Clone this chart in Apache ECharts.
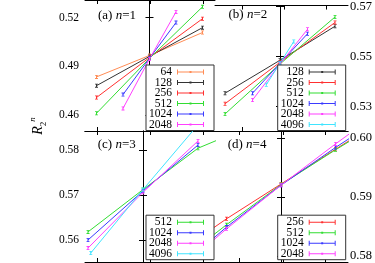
<!DOCTYPE html>
<html><head><meta charset="utf-8">
<script src="https://cdn.jsdelivr.net/npm/echarts@6.0.0/dist/echarts.min.js"></script>
<style>html,body{margin:0;padding:0;background:#fff;}#c{width:375px;height:263px;}</style>
</head><body><div id="c"></div>
<script>
// ---- data (x in arbitrary units, centred on the crossing) ----
const sizesA = ['64','128','256','512','1024','2048'];
const sizesB = ['128','256','512','1024','2048','4096'];
const sizesC = ['512','1024','2048','4096'];
const sizesD = ['256','512','1024','2048'];

const xWide = [-1, 0, 1];
const xHalf = [-0.5, 0, 0.5];
const xQuarter = [-0.25, 0, 0.25];
const xWideExt = [-1, 0, 1, 2];
const xC4096 = [-0.95, 0, 1];
const xFull = [-2, -1, 0, 1, 2];

// panel (a) n=1
const a64   = [0.4836, 0.4968, 0.5109];
const a128  = [0.4782, 0.4962, 0.5139];
const a256  = [0.4709, 0.4955, 0.5194];
const a512  = [0.4612, 0.4950, 0.5267];
const a1024 = [0.4727, 0.4950, 0.5170];
const a2048 = [0.4642, 0.4946, 0.5236];
// panel (b) n=2
const b128  = [0.5353, 0.5485, 0.5621];
const b256  = [0.5311, 0.5477, 0.5636];
const b512  = [0.5270, 0.5470, 0.5658];
const b1024 = [0.5353, 0.5473, 0.5591];
const b2048 = [0.5326, 0.5470, 0.5609];
const b4096 = [0.5387, 0.5473, 0.5560];
// panel (c) n=3
const c512  = [0.5618, 0.5712, 0.5804, 0.5855];
const c1024 = [0.5600, 0.5709, 0.5811];
const c2048 = [0.5582, 0.5706, 0.5820];
const c4096 = [0.5571, 0.5712, 0.5856];
// panel (d) n=4
const d256  = [0.5799, 0.5863, 0.5922, 0.5981, 0.6039];
const d512  = [0.5781, 0.5853, 0.5921, 0.5980, 0.6036];
const d1024 = [0.5770, 0.5849, 0.5920, 0.5984, 0.6044];
const d2048 = [0.5766, 0.5846, 0.5920, 0.5990, 0.6057];

// tick labels
const yTicksA = [0.46, 0.49, 0.52];
const yTicksB = [0.53, 0.55, 0.57];
const yTicksC = [0.56, 0.57, 0.58];
const yTicksD = [0.58, 0.59, 0.60];
const panelLabels = [['(a) ', '1'], ['(b) ', '2'], ['(c) ', '3'], ['(d) ', '4']];

const colors = {'64':'#ff8c55','128':'#333333','256':'#ff3030','512':'#33dd33','1024':'#3b3bff','2048':'#ff40ff','4096':'#40e4ff'};

// ---- layout ----
const SERIF = 'Liberation Serif';
const grids = [
  {left:85, top:-2, width:130, height:133},
  {left:215, top:-2, width:133, height:133},
  {left:85, top:131, width:130, height:131},
  {left:215, top:131, width:133, height:131}
];
const xRanges = [[-1.217, 1.236], [-1.182, 1.236], [-1.0545, 1.309], [-1.211, 1.229]];
const xTicks = [[-0.99, 0.01, 1.01], [-0.69, 0.07, 0.84], [-0.84, 0.13, 1.09], [-0.76, 0.04, 0.82]];
const yRanges = [[0.45030, 0.53091], [0.52019, 0.57038], [0.55511, 0.58422], [0.57898, 0.60119]];
const yTicks = [yTicksA, yTicksB, yTicksC, yTicksD];
const labelSide = ['left', 'right', 'left', 'right'];

const axisLine = {show:true, lineStyle:{color:'#000', width:1}};
const xAxes = [], yAxes = [];
for (let g = 0; g < 4; g++) {
  ['bottom','top'].forEach(pos => {
    xAxes.push({type:'value', gridIndex:g, position:pos, min:xRanges[g][0], max:xRanges[g][1],
      axisLine, splitLine:{show:false},
      axisTick:{show:true, inside:true, length:4, customValues:xTicks[g], lineStyle:{color:'#000'}},
      axisLabel:{show:false}});
  });
  ['left','right'].forEach(pos => {
    const lab = labelSide[g] === pos;
    yAxes.push({type:'value', gridIndex:g, position:pos, min:yRanges[g][0], max:yRanges[g][1],
      axisLine, splitLine:{show:false},
      axisTick:{show:true, inside:true, length:4, customValues:yTicks[g], lineStyle:{color:'#000'}},
      axisLabel:{show:lab, customValues:yTicks[g], margin: pos==='left'?6:2,
        showMinLabel:true, showMaxLabel:true, hideOverlap:false,
        verticalAlign:'middle', verticalAlignMinLabel:'middle', verticalAlignMaxLabel:'middle',
        fontFamily:SERIF, fontSize: pos==='left'?11.5:12.5, color:'#000',
        formatter: v => v.toFixed(2)}});
  });
}

const series = [];
function addSeries(g, name, xs, ys) {
  series.push({type:'line', name, xAxisIndex:g*2, yAxisIndex:g*2,
    data: xs.map((x,i) => [x, ys[i]]),
    color: colors[name],
    symbol:'path://M1,0h1v5h-1zM0,0h3v1h-3zM0,4h3v1h-3z', symbolSize:[3,4], showSymbol:true,
    lineStyle:{width:1, color:colors[name]}, itemStyle:{color:colors[name]},
    clip:true, silent:true});
}
addSeries(0,'64',xWide,a64); addSeries(0,'128',xWide,a128); addSeries(0,'256',xWide,a256);
addSeries(0,'512',xWide,a512); addSeries(0,'1024',xHalf,a1024); addSeries(0,'2048',xHalf,a2048);
addSeries(1,'128',xWide,b128); addSeries(1,'256',xWide,b256); addSeries(1,'512',xWide,b512);
addSeries(1,'1024',xHalf,b1024); addSeries(1,'2048',xHalf,b2048); addSeries(1,'4096',xQuarter,b4096);
addSeries(2,'512',xWideExt,c512); addSeries(2,'1024',xWide,c1024); addSeries(2,'2048',xWide,c2048);
addSeries(2,'4096',xC4096,c4096);
addSeries(3,'256',xFull,d256); addSeries(3,'512',xFull,d512); addSeries(3,'1024',xFull,d1024);
addSeries(3,'2048',xFull,d2048);

const legendPos = [{left:146, top:65}, {left:277.7, top:65}, {left:146, bottom:3.3}, {left:277.7, bottom:3.3}];
const legendData = [sizesA, sizesB, sizesC, sizesD];
const legends = legendData.map((d,i) => Object.assign({
  data:d, orient:'vertical', align:'right',
  itemWidth:27, itemHeight:5, itemGap:-1.5, selectedMode:false,
  icon:'path://M0,0h1v5h-1zM0,2h27v1h-27zM26,0h1v5h-1zM12.5,1.5h2v2h-2z',
  itemStyle:{borderWidth:0},
  padding:[1,10,0,3], borderColor:'#333', borderWidth:1, backgroundColor:'#fff',
  textStyle:{fontFamily:SERIF, fontSize:11.5, color:'#000'}
}, legendPos[i]));

const labelPos = [[98,15.5],[228.5,15],[97.7,144.7],[227.7,144.7]];
const graphics = panelLabels.map((p,i) => ({
  type:'text', x:labelPos[i][0], y:labelPos[i][1],
  style:{text: p[0] + '{i|n}=' + p[1], fontFamily:SERIF, fontSize:13, fill:'#000',
    verticalAlign:'middle', rich:{i:{fontStyle:'italic', fontFamily:SERIF, fontSize:13}}}
}));
graphics.push({type:'text', x:38, y:126, rotation:Math.PI/2,
  style:{text:'{R|R}{s|2}{p|n}', align:'center', verticalAlign:'middle', fill:'#000',
    rich:{R:{fontFamily:SERIF, fontStyle:'italic', fontSize:14, lineHeight:20, verticalAlign:'middle'},
          s:{fontFamily:SERIF, fontSize:9, lineHeight:20, verticalAlign:'bottom'},
          p:{fontFamily:SERIF, fontStyle:'italic', fontSize:9, lineHeight:20, verticalAlign:'top'}}}});

const chart = echarts.init(document.getElementById('c'), null, {renderer:'canvas'});
chart.setOption({animation:false, backgroundColor:'#fff', grid:grids, xAxis:xAxes, yAxis:yAxes,
  series, legend:legends, graphic:graphics});
</script></body></html>
